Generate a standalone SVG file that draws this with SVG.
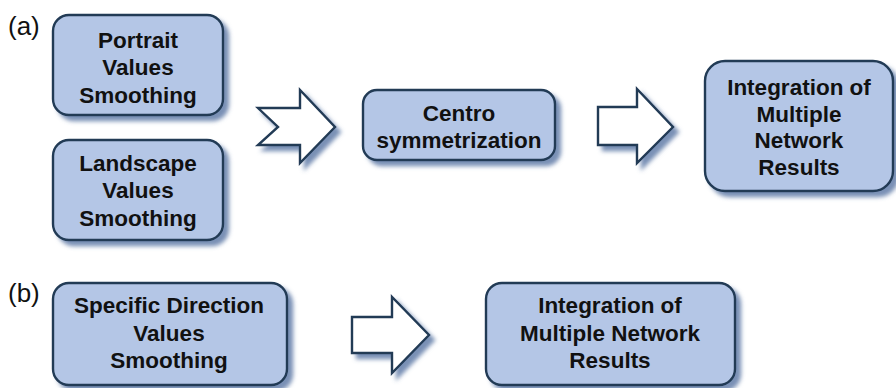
<svg xmlns="http://www.w3.org/2000/svg" width="896" height="388" viewBox="0 0 896 388">
<defs>
<filter id="sh" x="-20%" y="-20%" width="140%" height="150%">
<feDropShadow dx="5" dy="5" stdDeviation="2.2" flood-color="#4d6a9c" flood-opacity="0.75"/>
</filter>
<style>
.box{fill:#b4c6e6;stroke:#213a55;stroke-width:2.4;filter:url(#sh)}
.arr{fill:#ffffff;stroke:#213a55;stroke-width:2.4;stroke-linejoin:miter;filter:url(#sh)}
.t{font-family:"Liberation Sans",Arial,sans-serif;font-weight:bold;font-size:22.5px;fill:#111;text-anchor:middle}
.lab{font-family:"Liberation Sans",Arial,sans-serif;font-size:26px;fill:#111}
</style>
</defs>
<rect width="896" height="388" fill="#ffffff"/>
<text class="lab" x="8" y="35">(a)</text>
<text class="lab" x="8" y="302">(b)</text>
<g id="portrait">
<rect class="box" x="53" y="15" width="170" height="100" rx="16"/>
<text class="t" x="138" y="48">Portrait</text>
<text class="t" x="138" y="75">Values</text>
<text class="t" x="138" y="103">Smoothing</text>
</g>
<g id="landscape">
<rect class="box" x="53" y="140" width="170" height="100" rx="16"/>
<text class="t" x="138" y="171">Landscape</text>
<text class="t" x="138" y="198">Values</text>
<text class="t" x="138" y="226">Smoothing</text>
</g>
<g id="centro">
<rect class="box" x="363" y="90" width="192" height="70" rx="14"/>
<text class="t" x="459" y="121">Centro</text>
<text class="t" x="459" y="148">symmetrization</text>
</g>
<g id="integration-a">
<rect class="box" x="705" y="61" width="188" height="130" rx="20"/>
<text class="t" x="799" y="95">Integration of</text>
<text class="t" x="799" y="122">Multiple</text>
<text class="t" x="799" y="148">Network</text>
<text class="t" x="799" y="175">Results</text>
</g>
<g id="specific">
<rect class="box" x="53" y="283" width="234" height="102" rx="16"/>
<text class="t" x="169" y="313">Specific Direction</text>
<text class="t" x="169" y="341">Values</text>
<text class="t" x="169" y="368">Smoothing</text>
</g>
<g id="integration-b">
<rect class="box" x="486" y="283" width="249" height="102" rx="16"/>
<text class="t" x="610" y="313">Integration of</text>
<text class="t" x="610" y="341">Multiple Network</text>
<text class="t" x="610" y="368">Results</text>
</g>
<g id="connectors">
<polygon class="arr" points="258,108 300,108 300,90 335,127 300,163 300,145 258,145 278,127"/>
<polygon class="arr" points="598,107 637,107 637,89 673,127 637,163 637,145 598,145"/>
<polygon class="arr" points="352,317 392,317 392,297 429,335 392,373 392,353 352,353"/>
</g>
</svg>
